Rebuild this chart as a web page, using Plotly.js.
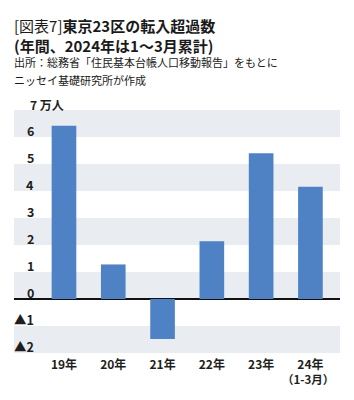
<!DOCTYPE html>
<html>
<head>
<meta charset="utf-8">
<script src="https://cdn.plot.ly/plotly-3.0.1.min.js"></script>
<style>
html,body{margin:0;padding:0;background:#fff;}
#chart{width:354px;height:400px;}
</style>
</head>
<body>
<div id="chart"></div>
<script>
// Data (万人)
const categories = ['19年', '20年', '21年', '22年', '23年', '24年'];
const periodNote = '（1-3月）';
const periodNoteIndex = 5;
const values = [6.42, 1.28, -1.48, 2.14, 5.40, 4.16];
const tickValues = [-2, -1, 0, 1, 2, 3, 4, 5, 6];
const tickLabels = ['▲2', '▲1', '0', '1', '2', '3', '4', '5', '6'];
const unitLabel = '7 万人';
const unitValue = 7;
const bandStarts = [-2, 0, 2, 4, 6];

const FONT = '"Noto Sans CJK JP", "Noto Sans", sans-serif';
const TXT = '#1e1e1e';

const xIdx = categories.map((c, i) => i);

const shapes = bandStarts.map(v => ({
  type: 'rect', xref: 'paper', yref: 'y', x0: 0, x1: 1, y0: v, y1: v + 1,
  fillcolor: '#e9ecf0', line: {width: 0}, layer: 'below'
}));

const annotations = [];
tickValues.forEach((v, i) => {
  annotations.push({
    xref: 'paper', yref: 'y', x: 0.068, y: v, yshift: 7,
    xanchor: 'right', yanchor: 'middle', showarrow: false,
    text: '<b>' + tickLabels[i] + '</b>',
    font: {family: FONT, size: 12.5, color: TXT}
  });
});
annotations.push({
  xref: 'paper', yref: 'y', x: 0.042, y: unitValue, yshift: 6,
  xanchor: 'left', yanchor: 'middle', showarrow: false,
  text: '<b>' + unitLabel + '</b>',
  font: {family: FONT, size: 12, color: TXT}
});

// second line of the last category label
annotations.push({
  xref: 'x', yref: 'paper', x: periodNoteIndex, y: -0.109, xshift: -2,
  xanchor: 'center', yanchor: 'middle', showarrow: false,
  text: '<b>' + periodNote + '</b>',
  font: {family: FONT, size: 11.5, color: TXT}
});

// Title lines
const titleLines = [
  {text: '[図表7]<b>東京23区の転入超過数</b><br><b>(年間、2024年は1～3月累計)</b>', y: 1.3056, size: 15},
  {text: '出所：総務省「住民基本台帳人口移動報告」をもとに', y: 1.1955, size: 11},
  {text: 'ニッセイ基礎研究所が作成', y: 1.1255, size: 11}
];
titleLines.forEach(t => annotations.push({
  xref: 'paper', yref: 'paper', x: -0.006, y: t.y, xanchor: 'left', yanchor: 'middle',
  align: 'left', showarrow: false, text: t.text, font: {family: FONT, size: t.size, color: '#1a1a1a'}
}));

const trace = {
  type: 'bar', x: xIdx, y: values, width: 0.5,
  marker: {color: '#4f82c5', line: {width: 0}},
  hoverinfo: 'skip'
};

const layout = {
  width: 354, height: 400,
  margin: {l: 14, r: 14, t: 110, b: 47},
  paper_bgcolor: '#fff', plot_bgcolor: 'rgba(0,0,0,0)',
  showlegend: false,
  font: {family: FONT, color: TXT},
  xaxis: {
    range: [-1.014, 5.6], tickmode: 'array', tickvals: xIdx, ticktext: categories,
    showgrid: false, zeroline: false, showline: false,
    ticks: 'outside', ticklen: 1, tickcolor: 'rgba(0,0,0,0)',
    tickfont: {family: FONT, size: 12, color: TXT, weight: 'bold'}, fixedrange: true
  },
  yaxis: {
    range: [-2, 7], showgrid: false, showticklabels: false, ticks: '',
    zeroline: true, zerolinecolor: '#111', zerolinewidth: 1.5, fixedrange: true
  },
  shapes: shapes,
  annotations: annotations
};

Plotly.newPlot('chart', [trace], layout, {displayModeBar: false, staticPlot: true});
</script>
</body>
</html>
